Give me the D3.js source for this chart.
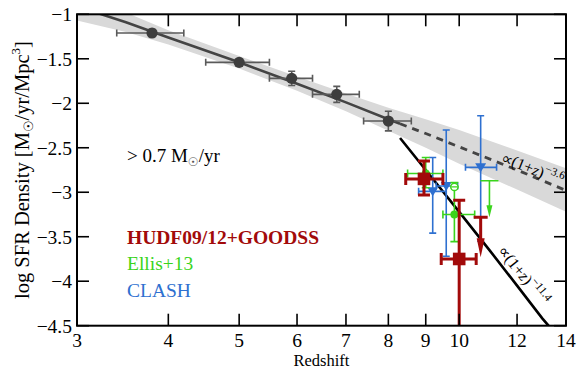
<!DOCTYPE html>
<html><head><meta charset="utf-8">
<script src="https://cdn.jsdelivr.net/npm/d3@7"></script>
<style>body{margin:0;background:#fff}</style>
</head><body><svg id="c" width="581" height="374"></svg>
<script>
// ---- axis ticks ----
const xTicks = [3,4,5,6,7,8,9,10,12,14];
const yTicks = [-1,-1.5,-2,-2.5,-3,-3.5,-4,-4.5];
const yTickLabels = ["\u22121","\u22121.5","\u22122","\u22122.5","\u22123","\u22123.5","\u22124","\u22124.5"];

// ---- fit band & lines ----
const bandZ  = [3, 3.5, 4, 5, 6, 7, 8, 9, 10, 12, 14];
const bandHi = [-0.75,-0.98,-1.18,-1.47,-1.70,-1.89,-2.05,-2.18,-2.30,-2.53,-2.73];
const bandLo = [-1.07,-1.20,-1.34,-1.61,-1.86,-2.09,-2.31,-2.50,-2.68,-2.97,-3.22];
const fitZ   = [3, 3.5, 4, 5, 6, 7, 8, 8.3];
const fitVal = [-0.91,-1.09,-1.26,-1.54,-1.78,-1.99,-2.18,-2.23];
const dashZ  = [8.3, 9, 10, 12, 14];
const dashVal= [-2.23,-2.34,-2.49,-2.75,-2.98];
const steepZ = [8.3, 9, 10, 11, 12, 13, 13.25];
const steepVal=[-2.39,-2.75,-3.22,-3.65,-4.05,-4.42,-4.50];

// ---- gray points (> 0.7 Msun/yr) ----
const grayZ   = [3.8, 5.0, 5.9, 6.8, 8.0];
const grayVal = [-1.21,-1.54,-1.72,-1.90,-2.20];
const grayZlo = [3.4, 4.5, 5.5, 6.3, 7.4];
const grayZhi = [4.2, 5.5, 6.3, 7.3, 8.6];
const grayErr = [0.04, 0.04, 0.08, 0.09, 0.11];

// ---- HUDF09/12+GOODSS ----
const redZ   = [8.95, 10.0];
const redVal = [-2.85, -3.75];
const redZlo = [8.45, 9.45];
const redZhi = [9.5, 10.55];
const redHi  = [-2.65, -3.09];
const redLo  = [-3.03, -4.8];
const redLimZ = [10.7], redLimTop = [-3.28], redLimTip = [-3.73];

// ---- Ellis+13 ----
const greenZ   = [9.0, 9.85];
const greenVal = [-2.79, -3.25];
const greenZlo = [8.5, 9.5];
const greenZhi = [9.5, 10.5];
const greenHi  = [-2.61, -2.94];
const greenLo  = [-2.95, -3.555];
const greenOpenZ = [9.85], greenOpenVal = [-2.94], greenOpenHi = [-2.89];
const greenLimZ = [11.0], greenLimTop = [-2.87], greenLimTip = [-3.28];

// ---- CLASH ----
const blueZ   = [9.2, 9.6, 10.7];
const blueVal = [-2.99, -2.93, -2.72];
const blueZlo = [8.8, 9.3, 10.2];
const blueZhi = [9.6, 9.95, 11.25];
const blueHi  = [-2.61, -2.30, -2.14];
const blueLo  = [-3.46, -3.72, -3.55];

const RED="#a20a0a", GREEN="#3ad41c", BLUE="#2e70d0", GRAY="#444444", EGRAY="#5a5a5a";
const FONT="'Liberation Serif','Times New Roman',serif";

const L=77, R=566, T=14.3, B=325.7;
const svg = d3.select("#c");
const x = d3.scaleLog().domain([3,14]).range([L,R]);
const y = d3.scaleLinear().domain([-4.5,-1]).range([B,T]);

svg.append("defs").append("clipPath").attr("id","clip")
  .append("rect").attr("x",L).attr("y",T).attr("width",R-L).attr("height",B-T);
const g = svg.append("g").attr("clip-path","url(#clip)");

// band
const area = d3.area().x((d,i)=>x(bandZ[i])).y0((d,i)=>y(bandLo[i])).y1((d,i)=>y(bandHi[i]));
g.append("path").attr("d",area(bandZ)).attr("fill","#d9d9d9");

const line = d3.line();
g.append("path").attr("d",line(fitZ.map((z,i)=>[x(z),y(fitVal[i])])))
  .attr("fill","none").attr("stroke",GRAY).attr("stroke-width",2.6);
g.append("path").attr("d",line(dashZ.map((z,i)=>[x(z),y(dashVal[i])])))
  .attr("fill","none").attr("stroke",GRAY).attr("stroke-width",2.8).attr("stroke-dasharray","7,6");
g.append("path").attr("d",line(steepZ.map((z,i)=>[x(z),y(steepVal[i])])))
  .attr("fill","none").attr("stroke","#000").attr("stroke-width",2.6);

function seg(x1,y1,x2,y2,c,w){
  g.append("line").attr("x1",x1).attr("y1",y1).attr("x2",x2).attr("y2",y2)
   .attr("stroke",c).attr("stroke-width",w);
}
function errBars(zs,vals,zlo,zhi,vhi,vlo,c,w,cap){
  zs.forEach((z,i)=>{
    const cx=x(z), cy=y(vals[i]);
    seg(x(zlo[i]),cy,x(zhi[i]),cy,c,w);
    seg(x(zlo[i]),cy-cap,x(zlo[i]),cy+cap,c,w);
    seg(x(zhi[i]),cy-cap,x(zhi[i]),cy+cap,c,w);
    seg(cx,y(vhi[i]),cx,y(vlo[i]),c,w);
    seg(cx-cap,y(vhi[i]),cx+cap,y(vhi[i]),c,w);
    seg(cx-cap,y(vlo[i]),cx+cap,y(vlo[i]),c,w);
  });
}
function upperLim(zs,top,tip,c,w,capw,headw,headl){
  zs.forEach((z,i)=>{
    const cx=x(z), t=y(top[i]), p=y(tip[i]);
    seg(cx,t,cx,p-headl+1,c,w);
    seg(cx-capw,t,cx+capw,t,c,w);
    g.append("path").attr("d",`M${cx-headw},${p-headl}L${cx+headw},${p-headl}L${cx},${p}Z`).attr("fill",c);
  });
}

// gray points
errBars(grayZ,grayVal,grayZlo,grayZhi,grayVal.map((v,i)=>v+grayErr[i]),grayVal.map((v,i)=>v-grayErr[i]),EGRAY,1.6,3.5);
grayZ.forEach((z,i)=>g.append("circle").attr("cx",x(z)).attr("cy",y(grayVal[i])).attr("r",5.6).attr("fill","#3d3d3d"));

// blue
errBars(blueZ,blueVal,blueZlo,blueZhi,blueHi,blueLo,BLUE,1.6,3.5);
blueZ.forEach((z,i)=>{
  const cx=x(z), cy=y(blueVal[i]);
  g.append("path").attr("d",`M${cx-5.5},${cy-4}L${cx+5.5},${cy-4}L${cx},${cy+5}Z`).attr("fill",BLUE);
});

// green
errBars(greenZ,greenVal,greenZlo,greenZhi,greenHi,greenLo,GREEN,1.6,4);
greenZ.forEach((z,i)=>g.append("circle").attr("cx",x(z)).attr("cy",y(greenVal[i])).attr("r",4).attr("fill",GREEN));
greenOpenZ.forEach((z,i)=>{
  const cx=x(z), cy=y(greenOpenVal[i]);
  seg(cx,y(greenOpenHi[i]),cx,cy,GREEN,1.6);
  seg(cx-4,y(greenOpenHi[i]),cx+4,y(greenOpenHi[i]),GREEN,1.6);
  g.append("circle").attr("cx",cx).attr("cy",cy).attr("r",3.6).attr("fill","#fff").attr("stroke",GREEN).attr("stroke-width",1.5);
  seg(cx-3,cy,cx+3,cy,GREEN,1.4);
});
upperLim(greenLimZ,greenLimTop,greenLimTip,GREEN,1.6,9,3,12);

// red
errBars(redZ,redVal,redZlo,redZhi,redHi,redLo,RED,3,6);
redZ.forEach((z,i)=>g.append("rect").attr("x",x(z)-6.3).attr("y",y(redVal[i])-6.3).attr("width",12.6).attr("height",12.6).attr("fill",RED));
upperLim(redLimZ,redLimTop,redLimTip,RED,3,7,4,19);

// axes / frame
const ax = svg.append("g");
ax.append("rect").attr("x",L).attr("y",T).attr("width",R-L).attr("height",B-T)
  .attr("fill","none").attr("stroke","#000").attr("stroke-width",2);
xTicks.forEach(t=>{
  const px=x(t);
  ax.append("line").attr("x1",px).attr("x2",px).attr("y1",B).attr("y2",B-12).attr("stroke","#000").attr("stroke-width",1.6);
  ax.append("line").attr("x1",px).attr("x2",px).attr("y1",T).attr("y2",T+12).attr("stroke","#000").attr("stroke-width",1.6);
  ax.append("text").attr("x",px).attr("y",347).attr("text-anchor","middle")
    .attr("font-family",FONT).attr("font-size",19.5).text(t);
});
yTicks.forEach((t,i)=>{
  const py=y(t);
  ax.append("line").attr("x1",L).attr("x2",L+12).attr("y1",py).attr("y2",py).attr("stroke","#000").attr("stroke-width",1.6);
  ax.append("line").attr("x1",R).attr("x2",R-12).attr("y1",py).attr("y2",py).attr("stroke","#000").attr("stroke-width",1.6);
  ax.append("text").attr("x",72).attr("y",py).attr("dy","0.35em").attr("text-anchor","end")
    .attr("font-family",FONT).attr("font-size",19.5).text(yTickLabels[i]);
});

// axis labels
svg.append("text").attr("x",(L+R)/2).attr("y",366).attr("text-anchor","middle")
  .attr("font-family",FONT).attr("font-size",16.5).text("Redshift");
const yl = svg.append("text").attr("transform",`translate(29,${(T+B)/2}) rotate(-90)`)
  .attr("text-anchor","middle").attr("font-family",FONT).attr("font-size",20.5);
yl.append("tspan").text("log SFR Density [M");
yl.append("tspan").attr("font-size",13).attr("dy",4).attr("font-family","DejaVu Sans").text("\u2609");
yl.append("tspan").attr("dy",-4).text("/yr/Mpc");
yl.append("tspan").attr("font-size",13).attr("dy",-9).text("3");
yl.append("tspan").attr("dy",9).text("]");

// annotations
const t1 = svg.append("text").attr("x",127).attr("y",162).attr("font-family",FONT).attr("font-size",19);
t1.append("tspan").text("> 0.7 M");
t1.append("tspan").attr("font-size",12).attr("dy",4).attr("font-family","DejaVu Sans").attr("fill","#555").text("\u2609");
t1.append("tspan").attr("dy",-4).text("/yr");

svg.append("text").attr("x",127).attr("y",243.5).attr("font-family",FONT).attr("font-size",19.5)
  .attr("font-weight","bold").attr("fill",RED).text("HUDF09/12+GOODSS");
svg.append("text").attr("x",127).attr("y",270).attr("font-family",FONT).attr("font-size",19.5)
  .attr("fill",GREEN).text("Ellis+13");
svg.append("text").attr("x",127).attr("y",296.5).attr("font-family",FONT).attr("font-size",19.5)
  .attr("fill",BLUE).text("CLASH");

const a1 = svg.append("text").attr("transform","translate(500,161.5) rotate(22)")
  .attr("font-family",FONT).attr("font-size",16);
a1.append("tspan").text("\u221D(1+");
a1.append("tspan").attr("font-style","italic").text("z");
a1.append("tspan").text(")");
a1.append("tspan").attr("font-size",11.5).attr("dy",-7).text("\u22123.6");

const a2 = svg.append("text").attr("transform","translate(497,251) rotate(51)")
  .attr("font-family",FONT).attr("font-size",16);
a2.append("tspan").text("\u221D(1+");
a2.append("tspan").attr("font-style","italic").text("z");
a2.append("tspan").text(")");
a2.append("tspan").attr("font-size",11.5).attr("dy",-7).text("\u221211.4");
</script></body></html>
